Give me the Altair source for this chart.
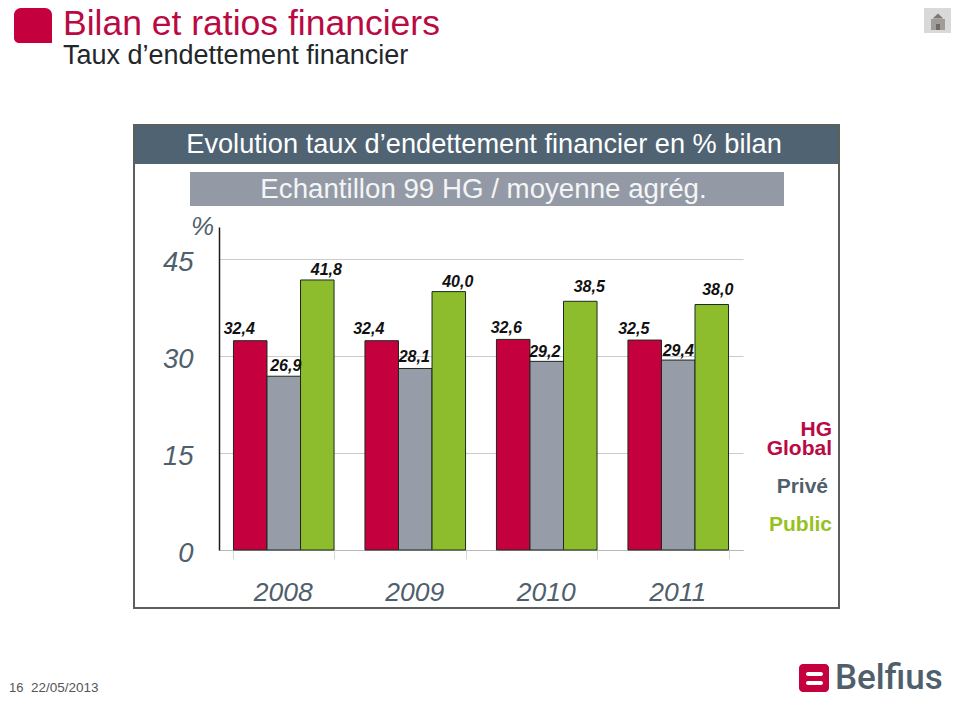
import altair as alt
import pandas as pd

years = ["2008", "2009", "2010", "2011"]
series = ["HG Global", "Privé", "Public"]
hg_global = [32.4, 32.4, 32.6, 32.5]
prive = [26.9, 28.1, 29.2, 29.4]
public = [41.8, 40.0, 38.5, 38.0]
y_ticks = [0, 15, 30, 45]
series_colors = ["#c4003f", "#969ca8", "#8dbd2c"]

# label nudges from the bar's centre/top (style only)
label_dx = [[-11, 2, 9], [-13, -1, 9], [-7, -2, 9], [-11, 0, 6]]
label_dy = [[-12, -10, -10], [-12, -11, -10], [-11, -9, -14], [-11, -9, -15]]

OX, OY = 219, 227   # page position of the plot origin
W, H = 524, 323
INK = "#4f5f6c"
SANS = "Liberation Sans"

rows = []
for i, yr in enumerate(years):
    for s, vals in zip(series, [hg_global, prive, public]):
        rows.append({"year": yr, "series": s, "value": vals[i]})
df = pd.DataFrame(rows)
one = pd.DataFrame({"k": [0]})


def rect(x0, y0, x1, y1, **kw):
    return alt.Chart(one).mark_rect(**kw).encode(
        x=alt.value(x0 - OX), x2=alt.value(x1 - OX),
        y=alt.value(y0 - OY), y2=alt.value(y1 - OY))


def text(s, x, y, size, color, align="left", **kw):
    kw.setdefault("font", SANS)
    return alt.Chart(one).mark_text(
        text=s, fontSize=size, color=color, align=align, baseline="middle", **kw
    ).encode(x=alt.value(x - OX), y=alt.value(y - OY))


xscale = alt.Scale(domain=years, paddingInner=0.235, paddingOuter=0.11)
x_enc = alt.X("year:N", scale=xscale, title=None, axis=alt.Axis(
    labelFont=SANS, labelFontSize=26.5, labelFontStyle="italic", labelColor=INK,
    labelAngle=0, labelPadding=33, labelOffset=-1, tickBand="extent", tickSize=9,
    tickColor="#d8d8d8", domainColor="#b8b8b8", domainWidth=1, grid=False,
    labelBaseline="middle"))
y_scale = alt.Scale(domain=[0, 50], nice=False)
y_enc = alt.Y("value:Q", scale=y_scale, title=None, axis=alt.Axis(
    values=y_ticks, labelFont=SANS, labelFontSize=27.5, labelFontStyle="italic",
    labelColor=INK, labelPadding=26, labelOffset=3, tickSize=0, grid=True,
    gridColor="#cbcbcb", gridWidth=1, domainColor="#1c1c1c", domainWidth=1.5))
off = alt.XOffset("series:N", sort=series, scale=alt.Scale(domain=series))

bars = alt.Chart(df).mark_bar(stroke="#1d2a1d", strokeWidth=1).encode(
    x=x_enc, xOffset=off, y=y_enc,
    color=alt.Color("series:N", legend=None,
                    scale=alt.Scale(domain=series, range=series_colors)))

labels = []
for i, yr in enumerate(years):
    for j, s in enumerate(series):
        d = df[(df.year == yr) & (df.series == s)].assign(
            lab=lambda t: t.value.map(lambda v: f"{v:.1f}".replace(".", ",")))
        labels.append(alt.Chart(d).mark_text(
            font=SANS, fontSize=16, fontWeight="bold",
            fontStyle="italic", color="#111111", baseline="middle",
            dx=label_dx[i][j], dy=label_dy[i][j],
        ).encode(x=alt.X("year:N", scale=xscale), xOffset=off,
                 y=alt.Y("value:Q", scale=y_scale), text="lab:N"))

deco = [
    rect(134, 126, 839, 164, fill="#4f6372"),
    rect(134, 125, 839, 608, fillOpacity=0, stroke="#5b605a", strokeWidth=2),
    rect(190, 172, 784, 206, fill="#939aa6"),
    text("Evolution taux d’endettement financier en % bilan", 484, 145, 27.2, "#ffffff", "center"),
    text("Echantillon 99 HG / moyenne agrég.", 483.5, 190, 27.7, "#f4f5f6", "center"),
    text("Bilan et ratios financiers", 63, 24, 35.5, "#b90a44"),
    text("Taux d’endettement financier", 63, 56, 27, "#23272b"),
    rect(14, 8, 52, 43, fill="#c4003f", cornerRadiusTopLeft=7, cornerRadiusTopRight=7,
         cornerRadiusBottomLeft=5),
    text("%", 191, 227, 26, INK, fontStyle="italic"),
    text("HG", 832, 430, 21, "#b90a44", "right", fontWeight="bold"),
    text("Global", 832, 449, 21, "#b90a44", "right", fontWeight="bold"),
    text("Privé", 828, 487, 21, INK, "right", fontWeight="bold"),
    text("Public", 832, 525, 21, "#97c11f", "right", fontWeight="bold"),
    text("16", 9, 688, 13, "#555555"),
    text("22/05/2013", 31, 688, 13.5, "#555555"),
    rect(799, 664, 829, 692, fill="#c4003f", cornerRadius=4),
    rect(806, 672, 823, 676, fill="#ffffff", cornerRadius=2),
    rect(806, 681, 823, 685, fill="#ffffff", cornerRadius=2),
    text("Belfius", 835, 678, 35, INK, font="Roboto", fontWeight=500),
    rect(924, 8, 951, 33, fill="#d9d9d9"),
    rect(931, 19, 945, 30, fill="#a19c98"),
    rect(936, 24, 940, 30, fill="#6f6a66"),
    alt.Chart(one).mark_point(
        shape="M-1,0.5 L0,-0.5 L1,0.5 Z", filled=True, fill="#7d7874", opacity=1, size=110
    ).encode(x=alt.value(938 - OX), y=alt.value(16 - OY)),
]

chart = alt.layer(bars, *labels, *deco).properties(
    width=W, height=H,
    autosize=alt.AutoSizeParams(type="none"),
    padding={"left": OX - 8, "top": OY - 8, "right": 952 - OX - W, "bottom": 696 - OY - H},
    background="#ffffff",
).configure_view(stroke=None)

chart.save("out.html", embed_options={"renderer": "svg", "actions": False})
